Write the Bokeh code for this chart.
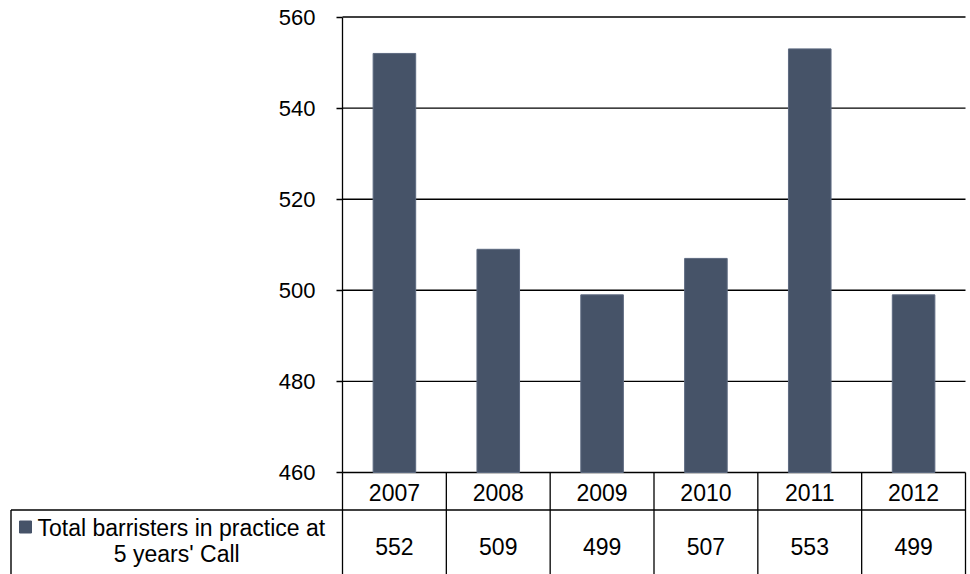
from bokeh.plotting import figure
from bokeh.models import Range1d, FixedTicker, ColumnDataSource, LinearAxis
from bokeh.core.properties import value
from bokeh.embed import file_html
from bokeh.resources import INLINE

# ---- data ----
years = ["2007", "2008", "2009", "2010", "2011", "2012"]
barristers = [552, 509, 499, 507, 553, 499]
y_ticks = [460, 480, 500, 520, 540, 560]
series_label = ["Total barristers in practice at", "5 years' Call"]

# ---- layout constants (pixels in the picture) ----
FONT = "Liberation Sans"
BAR_COLOR = "#465368"
W = 968
H = 574
PLOT_L = 342      # x of the value axis
PLOT_R = 965      # right edge of plot / table
Y_TOP = 16.5      # y of the top tick
Y_BOT = 472       # y of the bottom tick (category axis)
HEAD_B = 509.5    # bottom of the year header row
TABLE_L = 10.5    # left edge of the table

n = len(years)
y_min, y_max = min(y_ticks), max(y_ticks)
kx = n / (PLOT_R - PLOT_L)                 # data units per px (x)
ppu = (Y_BOT - Y_TOP) / (y_max - y_min)    # px per data unit (y)

def X(px):
    return (px - PLOT_L) * kx

def Y(py):
    return y_min - (py - Y_BOT) / ppu

p = figure(width=W, height=H, output_backend="svg", toolbar_location=None,
           x_range=Range1d(X(0), X(W)), y_range=Range1d(Y(H), Y(0)),
           x_axis_location=None, y_axis_location=None,
           min_border_left=0, min_border_right=0, min_border_top=0, min_border_bottom=0)
p.outline_line_color = None
p.grid.visible = False

# value axis, fixed at the left edge of the category area
ax = LinearAxis(fixed_location=0, ticker=FixedTicker(ticks=y_ticks), bounds=(y_min, y_max))
ax.axis_line_color = "#000000"
ax.axis_line_width = 1.3
ax.major_tick_line_color = "#000000"
ax.major_tick_line_width = 1.3
ax.major_tick_out = 6
ax.major_tick_in = 0
ax.minor_tick_line_color = None
ax.major_label_text_font = FONT
ax.major_label_text_font_size = "22px"
ax.major_label_text_color = "#000000"
ax.major_label_standoff = 21
p.add_layout(ax, "left")

# horizontal gridlines
p.segment(x0=[0] * len(y_ticks), x1=[n] * len(y_ticks), y0=y_ticks, y1=y_ticks,
          line_color="#000000", line_width=1.4)

xs = [i + 0.5 for i in range(n)]
bounds = list(range(n + 1))
src = ColumnDataSource(dict(x=xs, top=barristers, year=years,
                            val=[str(v) for v in barristers]))
p.vbar(x="x", top="top", bottom=y_min, width=0.41, source=src,
       fill_color=BAR_COLOR, line_color="#5d6a80", line_width=1)

# ---- table ----
# year header row
p.text(x="x", y=Y(492), text="year", source=src, text_font=value(FONT),
       text_font_size="23px", text_color="#000000", text_align="center",
       text_baseline="middle")
# column separators (header + data rows)
p.segment(x0=bounds, x1=bounds, y0=[y_min] * len(bounds), y1=[Y(H)] * len(bounds),
          line_color="#000000", line_width=1.3)
# row separator and left border
p.segment(x0=[X(TABLE_L)], x1=[n], y0=[Y(HEAD_B)], y1=[Y(HEAD_B)],
          line_color="#000000", line_width=1.4)
p.segment(x0=[X(TABLE_L)], x1=[X(TABLE_L)], y0=[Y(HEAD_B)], y1=[Y(H)],
          line_color="#000000", line_width=1.4)

# data values
p.text(x="x", y=Y(546), text="val", source=src, text_font=value(FONT),
       text_font_size="23px", text_color="#000000", text_align="center",
       text_baseline="middle")

# legend key + series label
p.scatter(x=[X(25)], y=[Y(526.5)], marker="square", size=12,
          fill_color=BAR_COLOR, line_color=BAR_COLOR)
p.text(x=[X(37)], y=[Y(527)], text=[series_label[0]],
       text_font=value(FONT), text_font_size="23px", text_color="#000000",
       text_align="left", text_baseline="middle")
p.text(x=[X((TABLE_L + PLOT_L) / 2)], y=[Y(553)], text=[series_label[1]],
       text_font=value(FONT), text_font_size="23px", text_color="#000000",
       text_align="center", text_baseline="middle")

open("out.html", "w").write(file_html(p, INLINE))
